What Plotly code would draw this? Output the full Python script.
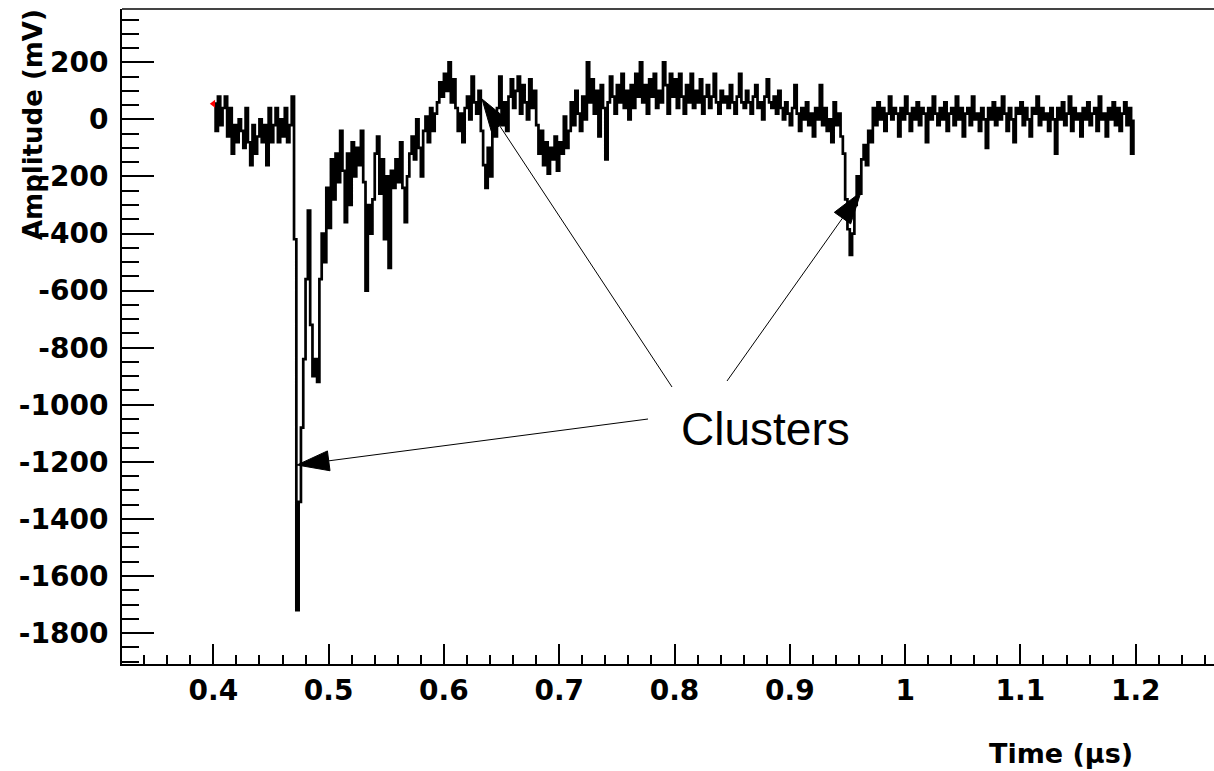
import math
import plotly.graph_objects as go

# ---------------- data ----------------
t_start_us = 0.400          # first sample time (µs)
t_step_us = 0.002           # sample spacing (µs)

amplitude_mv = [
    55, -40, 80, -20, 40, 80, -60, 40, -120, -20,
    -80, 0, -40, -100, 40, -80, -160, -20, -120, -60,
    0, -80, -20, -160, 40, -80, -20, 40, -80, 0,
    -60, 40, -80, -20, 80,
    -420, -1720, -1340, -1080, -840, -560, -320, -720, -900, -840, -920,
    -560, -400, -500, -240, -380,
    -140, -280, -120, -220, -40, -180, -360, -120, -300, -80,
    -200, -100, -160, -40, -220, -600, -300, -400, -280, -120,
    -60, -260, -140, -420, -200, -520, -180, -240, -140, -220,
    -80, -240, -360, -200, -120, -60, -140, 0, -100, -200,
    -40, 10, -80, 40, -40, 20, 60, 130, 80, 160,
    100, 200, 60, 140, 40, -40, 20, -80, 40, 80,
    0, 150, 60, 20, 100, -40, -160, -240, -100, -200,
    0, -60, 40, 150, -20, 60, -40, 80, 140, 40,
    100, 150, 20, 120, 60, 0, 140, 40, 100, -20,
    -120, -40, -160, -80, -190, -100, -140, -60, -180, -80,
    -120, 10, -100, -40, 60, -20, 100, 20, -40, 80,
    0, 200, 60, 140, 20, 100, -60, 120, 40, -140,
    60, 150, 80, 20, 120, 60, 160, 40, 100, 0,
    120, 40, 160, 80, 200, 60, 120, 20, 140, 80,
    160, 40, 100, 60, 200, 120, 20, 160, 80, 140,
    40, 160, 80, 20, 120, 60, 160, 40, 100, 60,
    140, 20, 80, 120, 40, 80, 160, 60, 20, 100,
    60, 80, 40, 120, 60, 20, 80, 160, 60, 40,
    100, 60, 20, 80, 120, 40, 60, 0, 80, 140,
    60, 40, 80, 20, 100, 40, 0, 60, 20, -20,
    40, 120, 20, -40, 40, 0, 60, -20, 20, -60,
    40, 0, 120, -20, 40, -40, 0, -80, 60, -20,
    20, -60, -120, -280, -385, -475, -400, -300, -200, -260,
    -140, -90, -160, -40, -80, 40, -20, 60, 0, 40,
    -40, 20, 80, 0, 40, 20, -60, 40, 0, 80,
    20, -40, 40, 0, 60, -20, 40, 20, -80, 40,
    0, 80, 20, -20, 40, 0, 60, -40, 20, 40,
    -20, 80, 0, 40, -60, 20, 40, -20, 80, 0,
    20, -40, 40, 0, -100, 40, 0, 60, -20, 40,
    0, 80, 20, -40, 40, 0, -80, 40, 20, 60,
    -20, 40, 0, -60, 40, 20, 80, -20, 40, 0,
    20, -40, 40, 0, -120, 40, 0, 60, -20, 20,
    80, -40, 40, 0, 20, -60, 40, 0, 60, -20,
    20, 40, -40, 80, 0, 20, -60, 40, 0, 60,
    -20, 40, -40, 20, 60, -20, 40, -120, 0,
]

start_marker_t = [0.400]
start_marker_mv = [55]

x_tick_vals = [0.4, 0.5, 0.6, 0.7, 0.8, 0.9, 1.0, 1.1, 1.2]
x_tick_text = ["0.4", "0.5", "0.6", "0.7", "0.8", "0.9", "1", "1.1", "1.2"]
y_tick_vals = [200, 0, -200, -400, -600, -800, -1000, -1200, -1400, -1600, -1800]
y_tick_text = ["200", "0", "-200", "-400", "-600", "-800", "-1000", "-1200",
               "-1400", "-1600", "-1800"]

x_range = [0.3208, 1.2679]
y_range = [-1908.5, 386.9]

annotation_text = "Clusters"
x_title = "Time (µs)"
y_title = "Amplitude (mV)"

# ---------------- layout geometry (pixels) ----------------
W, H = 1214, 771
L, R, T, B = 122, 0, 9, 107
PW, PH = W - L - R, H - T - B


def px(xpix):
    return (xpix - L) / PW


def py(ypix):
    return (H - B - ypix) / PH


fig = go.Figure()
fig.add_trace(go.Scatter(
    x0=t_start_us, dx=t_step_us, y=amplitude_mv,
    mode="lines", line=dict(color="black", width=2.7, shape="hv"),
    showlegend=False, hoverinfo="skip",
))
fig.add_trace(go.Scatter(
    x=start_marker_t, y=start_marker_mv, mode="markers",
    marker=dict(symbol="triangle-left", color="red", size=7),
    showlegend=False, hoverinfo="skip",
))

bold_font = dict(family="DejaVu Sans", size=28, color="black", weight="bold")

fig.update_xaxes(
    range=x_range, showgrid=False, zeroline=False,
    showline=True, linewidth=2, linecolor="black", mirror=False,
    tickmode="array", tickvals=x_tick_vals, ticktext=x_tick_text,
    ticks="inside", ticklen=20, tickwidth=1.5, tickcolor="black",
    tickfont=bold_font, ticklabelstandoff=0,
    minor=dict(tickmode="linear", tick0=0, dtick=0.02, ticks="inside",
               ticklen=9, tickwidth=1.5, tickcolor="black", showgrid=False),
)
fig.update_yaxes(
    range=y_range, showgrid=False, zeroline=False,
    showline=True, linewidth=2, linecolor="black", mirror=False,
    tickmode="array", tickvals=y_tick_vals, ticktext=y_tick_text,
    ticks="inside", ticklen=32, tickwidth=1.5, tickcolor="black",
    tickfont=bold_font, ticklabelstandoff=6,
    minor=dict(tickmode="linear", tick0=0, dtick=50, ticks="inside",
               ticklen=17, tickwidth=1.5, tickcolor="black", showgrid=False),
)

shapes = [
    dict(type="line", xref="paper", yref="paper", x0=0, x1=1, y0=1, y1=1,
         line=dict(color="#444444", width=2)),
]


def arrow(x0, y0, x1, y1, head_len=32, half_w=10):
    dx, dy = x1 - x0, y1 - y0
    d = math.hypot(dx, dy)
    ux, uy = dx / d, dy / d
    bx, by = x1 - ux * head_len, y1 - uy * head_len
    nx, ny = -uy, ux
    p1 = (bx + nx * half_w, by + ny * half_w)
    p2 = (bx - nx * half_w, by - ny * half_w)
    out = [dict(type="line", xref="paper", yref="paper",
                x0=px(x0), y0=py(y0), x1=px(bx), y1=py(by),
                line=dict(color="black", width=1))]
    path = "M{:.5f},{:.5f} L{:.5f},{:.5f} L{:.5f},{:.5f} Z".format(
        px(x1), py(y1), px(p1[0]), py(p1[1]), px(p2[0]), py(p2[1]))
    out.append(dict(type="path", xref="paper", yref="paper", path=path,
                    fillcolor="black", line=dict(color="black", width=1)))
    return out


shapes += arrow(648, 419, 297, 465)
shapes += arrow(672, 387, 482, 99)
shapes += arrow(727, 381, 861, 192)

annotations = [
    dict(text=annotation_text, xref="paper", yref="paper", x=px(765), y=py(429),
         xanchor="center", yanchor="middle", showarrow=False,
         font=dict(family="Liberation Sans", size=46, color="black")),
    dict(text=y_title, xref="paper", yref="paper", x=px(33), y=py(125),
         xanchor="center", yanchor="middle", textangle=-90, showarrow=False,
         font=dict(family="DejaVu Sans", size=26, color="black", weight="bold")),
    dict(text=x_title, xref="paper", yref="paper", x=px(1135), y=py(753),
         xanchor="right", yanchor="middle", showarrow=False,
         font=dict(family="DejaVu Sans", size=27, color="black", weight="bold")),
]

fig.update_layout(
    width=W, height=H,
    margin=dict(l=L, r=R, t=T, b=B, pad=0),
    paper_bgcolor="white", plot_bgcolor="white",
    shapes=shapes, annotations=annotations,
    showlegend=False,
)

fig.write_html("out.html")
